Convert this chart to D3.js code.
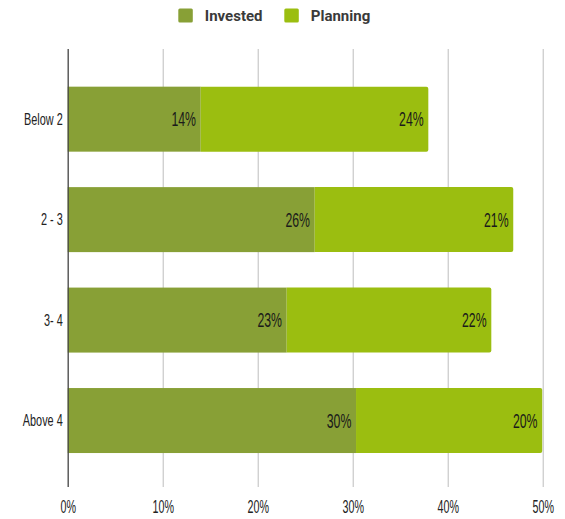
<!DOCTYPE html>
<html><head><meta charset="utf-8">
<script src="https://cdn.jsdelivr.net/npm/d3@7"></script>
<style>body{margin:0;background:#fff}svg{display:block}</style>
</head><body>
<svg id="c" width="565" height="519"></svg>
<script>
const categories = ["Below 2", "2 - 3", "3- 4", "Above 4"];
const invested = [14.0, 26.0, 23.05, 30.35];
const planning = [23.96, 20.9, 21.54, 19.6];
const seriesNames = ["Invested", "Planning"];
const tickValues = [0, 10, 20, 30, 40, 50];
const colors = ["#88a036", "#9bbe10"];

const svg = d3.select("#c");
const plotTop = 49, plotBottom = 487;
const x = d3.scaleLinear().domain([0, 50]).range([67.7, 542.7]);
const y = d3.scaleBand().domain(categories).range([50.7, 489]).paddingInner(0.353).paddingOuter(0.358);

// gridlines + tick labels via axis
const ax = svg.append("g").attr("transform", `translate(0,${plotBottom})`)
  .call(d3.axisBottom(x).tickValues(tickValues).tickFormat(d => d + "%").tickSize(-(plotBottom - plotTop)));
ax.select(".domain").remove();
ax.selectAll("line").attr("stroke", "#bdbdbd").attr("stroke-width", 1);
ax.selectAll("text").attr("y", null).attr("dy", null)
  .attr("transform", "translate(0,26.3) scale(0.58,1)")
  .attr("font-family", "Liberation Sans, Arial, sans-serif").attr("font-size", 18.5)
  .attr("fill", "#222");

const stack = categories.map((c, i) => ({ c, inv: invested[i], pl: planning[i] }));

const g = svg.append("g");
// invested
g.selectAll(".inv").data(stack).join("rect")
  .attr("x", x(0)).attr("y", d => y(d.c))
  .attr("width", d => x(d.inv) - x(0)).attr("height", y.bandwidth())
  .attr("fill", colors[0]);
// planning (rounded right end)
g.selectAll(".pl").data(stack).join("path")
  .attr("d", d => {
    const x0 = x(d.inv), x1 = x(d.inv + d.pl), y0 = y(d.c), h = y.bandwidth(), r = 2;
    return `M${x0},${y0}H${x1 - r}Q${x1},${y0} ${x1},${y0 + r}V${y0 + h - r}Q${x1},${y0 + h} ${x1 - r},${y0 + h}H${x0}Z`;
  })
  .attr("fill", colors[1]);

// data labels
const lbl = (sel, getEnd, getVal) => sel
  .attr("transform", d => `translate(${getEnd(d) - 4.7},${y(d.c) + y.bandwidth() / 2 + 7}) scale(0.63,1)`)
  .attr("text-anchor", "end")
  .attr("font-family", "Liberation Sans, Arial, sans-serif").attr("font-size", 19.5)
  .attr("fill", "#1a1a1a")
  .text(d => Math.round(getVal(d)) + "%");
g.selectAll(".li").data(stack).join("text").call(lbl, d => x(d.inv), d => d.inv);
g.selectAll(".lp").data(stack).join("text").call(lbl, d => x(d.inv + d.pl), d => d.pl);

// axis line
svg.append("line").attr("x1", x(0) + 0.5).attr("x2", x(0) + 0.5).attr("y1", plotTop).attr("y2", plotBottom)
  .attr("stroke", "#444").attr("stroke-width", 1.2);

// category labels
svg.selectAll(".cat").data(categories).join("text")
  .attr("transform", d => `translate(62.7,${y(d) + y.bandwidth() / 2 + 5.8}) scale(0.68,1)`)
  .attr("text-anchor", "end")
  .attr("font-family", "Liberation Sans, Arial, sans-serif").attr("font-size", 16)
  .attr("fill", "#222").text(d => d);

// legend
const legX = [178.3, 284.3];
const leg = svg.selectAll(".leg").data(seriesNames).join("g")
  .attr("transform", (d, i) => `translate(${legX[i]},8.5)`);
leg.append("rect").attr("width", 14.5).attr("height", 14).attr("rx", 1.5)
  .attr("fill", (d, i) => colors[i]);
leg.append("text").attr("x", 26.5).attr("y", 12.2)
  .attr("font-family", "Roboto, sans-serif").attr("font-weight", 700).attr("font-size", 15)
  .attr("fill", "#3a3a3a").text(d => d);
</script>
</body></html>
